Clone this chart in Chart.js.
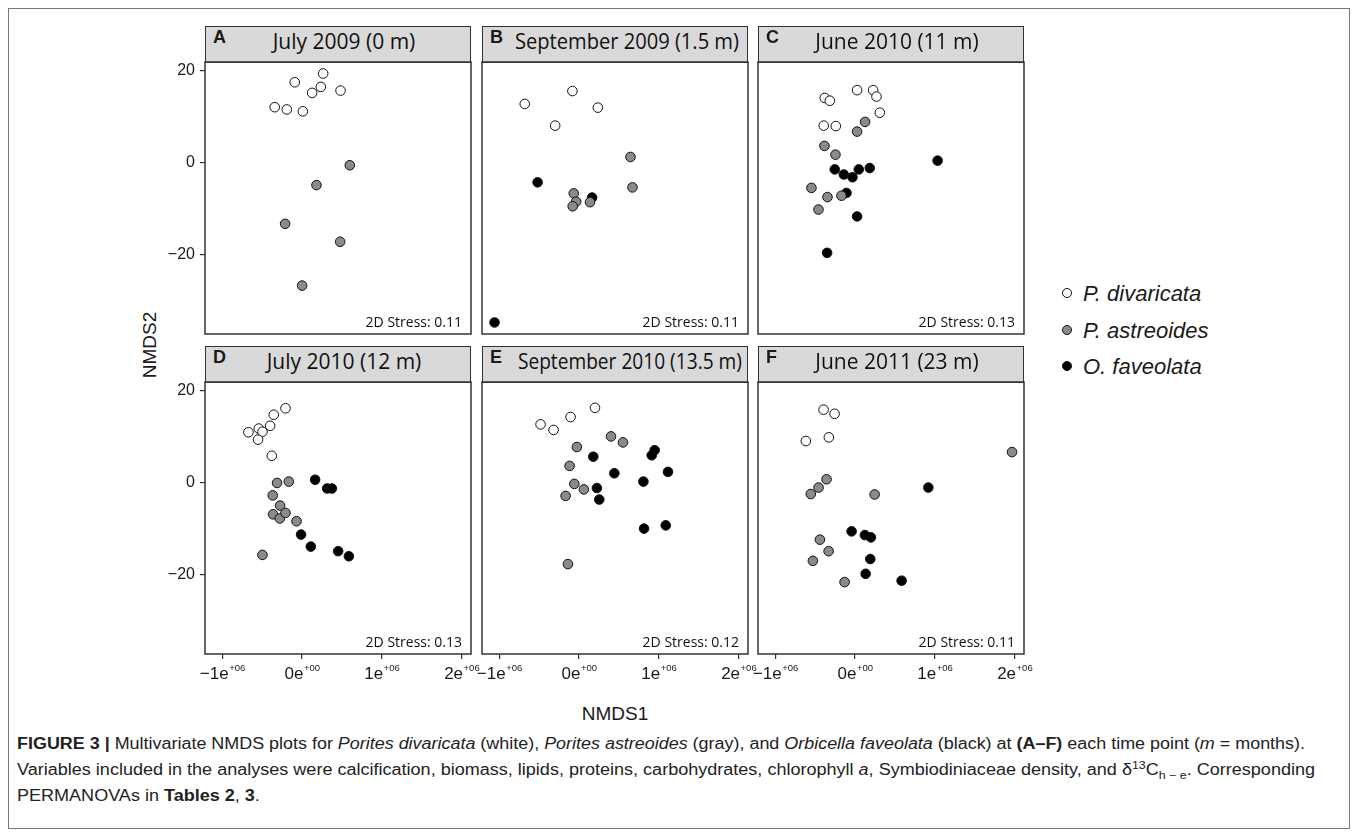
<!DOCTYPE html>
<html>
<head>
<meta charset="utf-8">
<script src="https://cdn.jsdelivr.net/npm/chart.js@4.4.1/dist/chart.umd.min.js"></script>
<style>
  html, body { margin: 0; padding: 0; background: #fff; }
  body { width: 1358px; height: 835px; position: relative; overflow: hidden;
         font-family: "Liberation Sans", Arial, sans-serif; color: #1a1a1a; }
  #frame { position: absolute; left: 8px; top: 8px; width: 1342px; height: 821px;
           border: 1px solid #777; box-sizing: border-box; }
  canvas { position: absolute; }
  .strip { position: absolute; height: 37px; background: #d9d9d9; border: 1.5px solid #333;
           box-sizing: border-box; }
  .strip b { position: absolute; left: 7px; top: 0; line-height: 34px; font: bold 18px "Liberation Sans", Arial, sans-serif; }
  .strip span { position: absolute; left: 0; top: 0; width: 100%; box-sizing: border-box; white-space: nowrap;
                text-align: center; line-height: 33px; font: 21px "Open Sans", sans-serif; color: #111; }
  .strip em { font-style: normal; display: inline-block; white-space: nowrap; transform-origin: 50% 50%; }
  .axt { position: absolute; font-size: 19px; white-space: nowrap; }
  .leg { position: absolute; left: 1062px; height: 30px; line-height: 30px; font-size: 22px; font-style: italic; white-space: nowrap; }
  .leg .dot { display: inline-block; width: 8px; height: 8px; border: 1px solid #111; border-radius: 50%;
              vertical-align: middle; margin-right: 11px; position: relative; top: -2px; }
  #caption { position: absolute; left: 17px; top: 731px; font-size: 16px; color: #222;
             font-family: "Liberation Sans Narrow", "Liberation Sans", Arial, sans-serif; }
  #caption .cl { height: 26px; line-height: 26px; white-space: nowrap; transform-origin: 0 50%; width: max-content; }
  #caption sup, #caption sub { font-size: 11px; line-height: 0; }
</style>
</head>
<body>
<div id="frame"></div>
<div class="axt" id="ylab" style="left:150px;top:345px;transform:translate(-50%,-50%) rotate(-90deg);">NMDS2</div>
<div class="axt" id="xlab" style="left:615px;top:714px;transform:translate(-50%,-50%);">NMDS1</div>
<div id="caption">
  <div class="cl"><b>FIGURE 3 |</b> Multivariate NMDS plots for <i>Porites divaricata</i> (white), <i>Porites astreoides</i> (gray), and <i>Orbicella faveolata</i> (black) at <b>(A–F)</b> each time point (<i>m</i> = months).</div>
  <div class="cl">Variables included in the analyses were calcification, biomass, lipids, proteins, carbohydrates, chlorophyll <i>a</i>, Symbiodiniaceae density, and δ<sup>13</sup>C<sub>h − e</sub>. Corresponding</div>
  <div class="cl">PERMANOVAs in <b>Tables 2</b>, <b>3</b>.</div>
</div>
<script>
// --- data (x = NMDS1, y = NMDS2) ---
const panelLetters = ["A", "B", "C", "D", "E", "F"];
const panelTitles = ["July 2009 (0 m)", "September 2009 (1.5 m)", "June 2010 (11 m)",
                     "July 2010 (12 m)", "September 2010 (13.5 m)", "June 2011 (23 m)"];
const stressValues = ["0.11", "0.11", "0.13", "0.13", "0.12", "0.11"];

const speciesNames = ["P. divaricata", "P. astreoides", "O. faveolata"];
const speciesFill = ["#ffffff", "#8a8a8a", "#000000"];

const xTicks = [-1000000, 0, 1000000, 2000000];
const xTickLabels = ["\u22121e+06", "0e+00", "1e+06", "2e+06"];
const yTicks = [-20, 0, 20];
const xRange = [-1217000, 2117000];
const yRange = [-37.2, 21.8];

// A  July 2009
const aDivaricata = [[-92000, 17.4], [264000, 19.3], [126000, 15.1], [235000, 16.4], [482000, 15.6], [-343000, 12.0], [-192000, 11.5], [9000, 11.1]];
const aAstreoides = [[598000, -0.6], [180000, -4.9], [-213000, -13.3], [477000, -17.2], [0, -26.7]];
const aFaveolata = [];
// B  September 2009
const bDivaricata = [[-84000, 15.5], [-681000, 12.7], [235000, 11.9], [-300000, 8.0]];
const bFaveolata = [[-520000, -4.3], [163000, -7.6], [-1060000, -34.7]];
const bAstreoides = [[644000, 1.2], [669000, -5.4], [-67000, -6.7], [-37000, -8.5], [-80000, -9.5], [137000, -8.6]];
// C  June 2010
const cDivaricata = [[-380000, 14.0], [-317000, 13.4], [25000, 15.7], [226000, 15.7], [268000, 14.3], [310000, 10.8], [-393000, 8.0], [-242000, 7.9]];
const cAstreoides = [[125000, 8.8], [25000, 6.7], [-384000, 3.6], [-246000, 1.7], [-547000, -5.5], [-346000, -7.5], [-171000, -7.2], [-459000, -10.2]];
const cFaveolata = [[-255000, -1.5], [-142000, -2.6], [-33000, -3.2], [46000, -1.5], [184000, -1.2], [-108000, -6.6], [25000, -11.7], [-351000, -19.6], [1034000, 0.4]];
// D  July 2010
const dDivaricata = [[-673000, 10.9], [-543000, 11.7], [-497000, 11.0], [-552000, 9.3], [-401000, 12.3], [-355000, 14.7], [-208000, 16.1], [-380000, 5.8]];
const dAstreoides = [[-314000, -0.1], [-167000, 0.2], [-368000, -2.8], [-276000, -5.0], [-364000, -6.9], [-280000, -7.8], [-208000, -6.6], [-70000, -8.4], [-497000, -15.7]];
const dFaveolata = [[163000, 0.6], [314000, -1.3], [373000, -1.3], [-13000, -11.3], [109000, -13.9], [452000, -14.9], [586000, -16.0]];
// E  September 2010
const eDivaricata = [[-483000, 12.6], [-320000, 11.4], [-107000, 14.2], [199000, 16.2]];
const eAstreoides = [[400000, 10.0], [550000, 8.7], [-28000, 7.7], [-119000, 3.6], [-60000, -0.3], [60000, -1.5], [-169000, -2.9], [-140000, -17.7]];
const eFaveolata = [[947000, 7.0], [910000, 5.9], [178000, 5.6], [442000, 2.0], [1114000, 2.3], [806000, 0.2], [223000, -1.2], [253000, -3.7], [814000, -10.0], [1086000, -9.3]];
// F  June 2011
const fDivaricata = [[-395000, 15.8], [-257000, 14.9], [-329000, 9.8], [-617000, 9.0]];
const fAstreoides = [[1967000, 6.6], [-358000, 0.7], [-458000, -1.1], [-555000, -2.5], [245000, -2.6], [-441000, -12.4], [-332000, -14.9], [-529000, -17.0], [-132000, -21.6]];
const fFaveolata = [[918000, -1.1], [-44000, -10.6], [123000, -11.4], [198000, -11.9], [190000, -16.6], [132000, -19.8], [583000, -21.3]];

const panelData = [
  [aDivaricata, aAstreoides, aFaveolata],
  [bDivaricata, bAstreoides, bFaveolata],
  [cDivaricata, cAstreoides, cFaveolata],
  [dDivaricata, dAstreoides, dFaveolata],
  [eDivaricata, eAstreoides, eFaveolata],
  [fDivaricata, fAstreoides, fFaveolata]
];

// --- layout of the facet grid ---
const colLeft = [205, 482, 758];
const rowTop = [62, 382];
const plotW = 266, plotH = 272, stripH = 37;

Chart.defaults.font.family = '"Liberation Sans", Arial, sans-serif';
Chart.defaults.color = "#1a1a1a";

// box around the panel, stress note, and x tick labels with superscript exponent
const panelDecor = {
  id: "panelDecor",
  afterDraw(chart, args, opts) {
    const { ctx, chartArea: a } = chart;
    ctx.save();
    ctx.strokeStyle = "#333";
    ctx.lineWidth = 1.5;
    ctx.strokeRect(a.left, a.top, a.right - a.left, a.bottom - a.top);

    ctx.fillStyle = "#111";
    ctx.font = '14px "Open Sans", sans-serif';
    ctx.textAlign = "right";
    ctx.textBaseline = "alphabetic";
    ctx.fillText("2D Stress: " + opts.stress, a.right - 9, a.bottom - 7);

    if (opts.xLabels) {
      const xs = chart.scales.x;
      ctx.textAlign = "left";
      ctx.fillStyle = "#1a1a1a";
      xTicks.forEach((v, i) => {
        const s = xTickLabels[i];
        const k = s.indexOf("e") + 1;
        const base = s.slice(0, k), exp = s.slice(k);
        ctx.font = '17px "Liberation Sans", Arial, sans-serif';
        const w1 = ctx.measureText(base).width;
        ctx.font = '9.5px "Liberation Sans", Arial, sans-serif';
        const w2 = ctx.measureText(exp).width;
        const x0 = xs.getPixelForValue(v) - (w1 + w2) / 2;
        ctx.font = '17px "Liberation Sans", Arial, sans-serif';
        ctx.fillText(base, x0, a.bottom + 25);
        ctx.font = '9.5px "Liberation Sans", Arial, sans-serif';
        ctx.fillText(exp, x0 + w1 + 0.5, a.bottom + 17);
      });
    }
    ctx.restore();
  }
};

function makePanel(i) {
  const col = i % 3, row = Math.floor(i / 3);
  const W = col === 0 ? 60 : 30;
  const H = row === 1 ? 40 : 3;
  const T = 3, R = 30;

  const strip = document.createElement("div");
  strip.className = "strip";
  strip.style.left = colLeft[col] + "px";
  strip.style.top = (rowTop[row] - stripH + 1) + "px";
  strip.style.width = plotW + "px";
  strip.innerHTML = "<b>" + panelLetters[i] + "</b><span><em>" + panelTitles[i] + "</em></span>";
  document.body.appendChild(strip);
  // long titles are squeezed a little and nudged right, clear of the letter
  const em = strip.querySelector("em");
  const span = strip.querySelector("span");
  const w = em.getBoundingClientRect().width;
  if (w > 224) {
    em.style.transform = "scaleX(" + (224 / w) + ")";
    span.style.paddingLeft = "24px";
  } else {
    span.style.paddingLeft = "12px";
  }

  const canvas = document.createElement("canvas");
  canvas.width = W + plotW + R;
  canvas.height = T + plotH + H;
  canvas.style.left = (colLeft[col] - W) + "px";
  canvas.style.top = (rowTop[row] - T) + "px";
  document.body.appendChild(canvas);

  const datasets = panelData[i].map((pts, s) => ({
    label: speciesNames[s],
    data: pts.map(p => ({ x: p[0], y: p[1] })),
    backgroundColor: speciesFill[s],
    borderColor: "#111",
    borderWidth: 1,
    pointRadius: 4.8
  }));

  new Chart(canvas, {
    type: "scatter",
    data: { datasets },
    options: {
      responsive: false,
      animation: false,
      events: [],
      layout: { padding: { top: T, right: R, left: 0, bottom: 0 }, autoPadding: false },
      plugins: {
        legend: { display: false },
        tooltip: { enabled: false },
        panelDecor: { stress: stressValues[i], xLabels: row === 1 }
      },
      scales: {
        x: {
          type: "linear",
          min: xRange[0],
          max: xRange[1],
          afterBuildTicks: s => { s.ticks = xTicks.map(v => ({ value: v })); },
          afterFit: s => { s.height = H; s.paddingLeft = 0; s.paddingRight = 0; },
          ticks: { display: false },
          grid: { display: row === 1, drawOnChartArea: false, drawTicks: true, tickLength: 5, color: "#333", lineWidth: 1.2 },
          border: { display: false }
        },
        y: {
          type: "linear",
          min: yRange[0],
          max: yRange[1],
          afterBuildTicks: s => { s.ticks = yTicks.map(v => ({ value: v })); },
          afterFit: s => { s.width = W; s.paddingTop = 0; s.paddingBottom = 0; },
          ticks: {
            display: col === 0,
            padding: 5,
            color: "#1a1a1a",
            font: { size: 16 },
            callback: v => (v < 0 ? "\u2212" + (-v) : String(v))
          },
          grid: { display: col === 0, drawOnChartArea: false, drawTicks: true, tickLength: 5, color: "#333", lineWidth: 1.2 },
          border: { display: false }
        }
      }
    },
    plugins: [panelDecor]
  });
}

for (let i = 0; i < 6; i++) makePanel(i);

// shared legend
speciesNames.forEach((name, s) => {
  const d = document.createElement("div");
  d.className = "leg";
  d.style.top = (279 + s * 36.5) + "px";
  d.innerHTML = '<span class="dot" style="background:' + speciesFill[s] + '"></span>' + name;
  document.body.appendChild(d);
});

// squeeze caption lines to the widths they take in the figure
const lines = document.querySelectorAll("#caption .cl");
const targets = [1288, 1298];
let k = 1;
targets.forEach((t, j) => {
  const w = lines[j].getBoundingClientRect().width;
  k = t / w;
  lines[j].style.transform = "scaleX(" + k + ")";
});
lines[2].style.transform = "scaleX(" + k + ")";
</script>
</body>
</html>
